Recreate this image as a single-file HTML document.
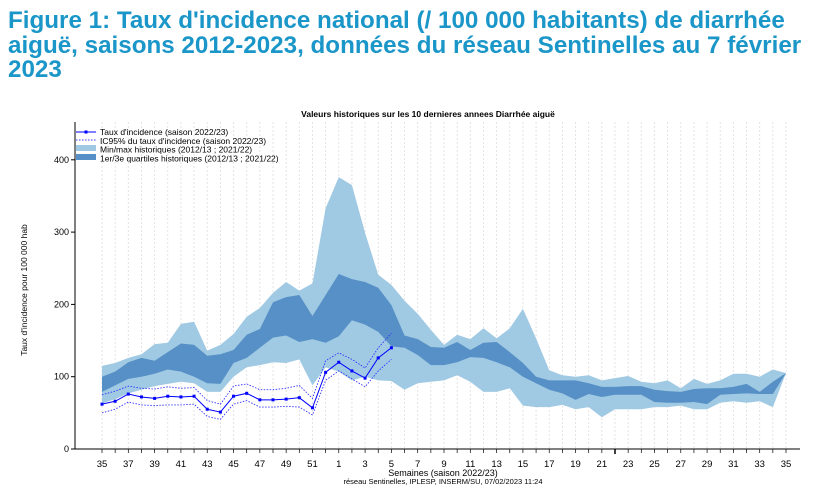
<!DOCTYPE html>
<html><head><meta charset="utf-8"><style>
body{margin:0;width:816px;height:493px;background:#fff;overflow:hidden;font-family:"Liberation Sans",sans-serif}
h1{margin:0;position:absolute;left:8px;top:9px;white-space:nowrap;font-size:24.2px;line-height:24.5px;color:#1a96c8;font-weight:bold}
svg{position:absolute;left:0;top:0}
</style></head><body>
<h1>Figure 1: Taux d'incidence national (/ 100 000 habitants) de diarrhée<br>aiguë, saisons 2012-2023, données du réseau Sentinelles au 7 février<br>2023</h1>
<svg id="c" width="816" height="493"></svg>
<script>
const weeks=[35,36,37,38,39,40,41,42,43,44,45,46,47,48,49,50,51,52,1,2,3,4,5,6,7,8,9,10,11,12,13,14,15,16,17,18,19,20,21,22,23,24,25,26,27,28,29,30,31,32,33,34,35];
const maxVals=[115,119,126,131,145,147,173,176,136,144,159,183,195,216,231,219,229,333,376,365,299,241,227,205,187,165,144,158,152,167,153,167,194,153,109,102,100,102,95,98,101,93,91,95,84,97,90,95,104,104,100,110,105];
const q3Vals=[100,107,120,126,122,134,146,144,129,131,137,158,166,203,210,213,184,213,242,235,231,223,199,157,152,141,140,148,137,147,148,134,119,100,95,95,95,91,86,86,87,87,82,80,79,83,84,84,86,90,79,93,105];
const q1Vals=[79,88,97,100,104,110,107,100,91,90,119,126,140,154,157,148,152,147,156,178,172,162,142,140,130,116,116,120,127,126,120,113,100,91,82,77,68,76,72,75,75,75,65,64,64,65,62,75,76,77,76,76,105];
const minVals=[63,69,77,82,87,90,93,91,79,79,100,113,116,120,119,124,88,113,107,95,100,95,94,82,91,93,95,102,93,79,79,84,60,58,58,61,55,58,44,55,55,55,58,58,60,55,55,64,66,64,66,58,105];
const curVals=[62,66,76,72,70,73,72,73,55,51,73,77,68,68,69,71,57,106,120,108,98,126,140];
const ciHigh=[75,80,87,84,83,86,84,85,67,62,87,90,82,82,84,88,70,122,133,124,112,140,160];
const ciLow=[50,55,65,61,60,61,61,62,45,41,62,67,58,58,59,58,47,95,108,97,86,108,124];
const yTicks=[0,100,200,300,400];
const xLabels=[35,37,39,41,43,45,47,49,51,1,3,5,7,9,11,13,15,17,19,21,23,25,27,29,31,33,35];

const svg=document.getElementById('c');const NS='http://www.w3.org/2000/svg';
const X0=102,DX=(786-102)/(weeks.length-1),Y0=449,SY=0.723;
const xs=i=>X0+i*DX, ys=v=>Y0-v*SY;
function mk(t,a,p){const e=document.createElementNS(NS,t);for(const k in a)e.setAttribute(k,a[k]);(p||svg).appendChild(e);return e;}
function txt(s,a){const e=mk('text',a);e.textContent=s;return e;}
for(let i=0;i<weeks.length;i++){const l=mk('line',{x1:xs(i),x2:xs(i),y1:122,y2:449,stroke:'#ddd','stroke-width':0.8,'stroke-dasharray':'2,2'});

}
function band(lo,hi,fill,name){let d='';for(let i=0;i<hi.length;i++)d+=(i?'L':'M')+xs(i)+','+ys(hi[i]);for(let i=lo.length-1;i>=0;i--)d+='L'+xs(i)+','+ys(lo[i]);const p=mk('path',{d:d+'Z',fill:fill});

}
band(minVals,maxVals,'#a0c9e3','minmax-band');
band(q1Vals,q3Vals,'#5690c6','quartile-band');
function line(v,attrs,name){const p=mk('polyline',Object.assign({points:v.map((y,i)=>xs(i)+','+ys(y)).join(' '),fill:'none'},attrs));

}
line(ciHigh,{stroke:'#3333ff','stroke-width':0.9,'stroke-dasharray':'1.5,1.5'},'ci-upper-line');
line(ciLow,{stroke:'#3333ff','stroke-width':0.9,'stroke-dasharray':'1.5,1.5'},'ci-lower-line');
line(curVals,{stroke:'#0000ff','stroke-width':1},'incidence-line');
curVals.forEach((v,i)=>{const r=mk('rect',{x:xs(i)-1.5,y:ys(v)-1.5,width:3,height:3,fill:'#0000ff'});

});
mk('line',{x1:75,x2:75,y1:122,y2:449,stroke:'#000','stroke-width':1});
mk('line',{x1:75,x2:800,y1:449,y2:449,stroke:'#000','stroke-width':1});
yTicks.forEach(v=>{mk('line',{x1:71,x2:75,y1:ys(v),y2:ys(v),stroke:'#000'});const t=txt(v,{x:69,y:ys(v)+3,'font-size':9,'text-anchor':'end'});

});
for(let i=0;i<weeks.length;i++)mk('line',{x1:xs(i),x2:xs(i),y1:449,y2:453,stroke:'#000','stroke-width':0.7});
mk('line',{x1:xs(39),x2:xs(39),y1:449,y2:454,stroke:'#000','stroke-width':1.5});
xLabels.forEach((w,j)=>{const t=txt(w,{x:xs(j*2),y:467,'font-size':9.5,'text-anchor':'middle'});

});
let t=txt('Semaines (saison 2022/23)',{x:443,y:476,'font-size':9,'text-anchor':'middle'});
t=txt('réseau Sentinelles, IPLESP, INSERM/SU, 07/02/2023 11:24',{x:443,y:484,'font-size':7.5,'text-anchor':'middle'});
t=txt("Taux d'incidence pour 100 000 hab",{x:0,y:0,'font-size':8.5,'text-anchor':'middle',transform:'translate(27,290) rotate(-90)'});
t=txt('Valeurs historiques sur les  10  dernieres annees Diarrhée aiguë',{x:428,y:117,'font-size':8.5,'font-weight':'bold','text-anchor':'middle'});
const lg=mk('g',{});
mk('line',{x1:76,x2:96,y1:132,y2:132,stroke:'#0000ff'},lg);mk('rect',{x:84.5,y:130.5,width:3,height:3,fill:'#0000ff'},lg);
mk('line',{x1:76,x2:96,y1:140,y2:140,stroke:'#3333ff','stroke-dasharray':'1.5,1.5'},lg);
mk('rect',{x:76,y:145,width:20,height:6,fill:'#a0c9e3'},lg);
mk('rect',{x:76,y:154,width:20,height:6,fill:'#5690c6'},lg);
["Taux d'incidence (saison 2022/23)","IC95% du taux d'incidence (saison 2022/23)","Min/max historiques (2012/13 ; 2021/22)","1er/3e quartiles historiques (2012/13 ; 2021/22)"].forEach((s,i)=>{const e=document.createElementNS(NS,'text');e.setAttribute('x',100);e.setAttribute('y',135+i*8.8);e.setAttribute('font-size',8.5);e.textContent=s;lg.appendChild(e);

});
</script>
</body></html>
